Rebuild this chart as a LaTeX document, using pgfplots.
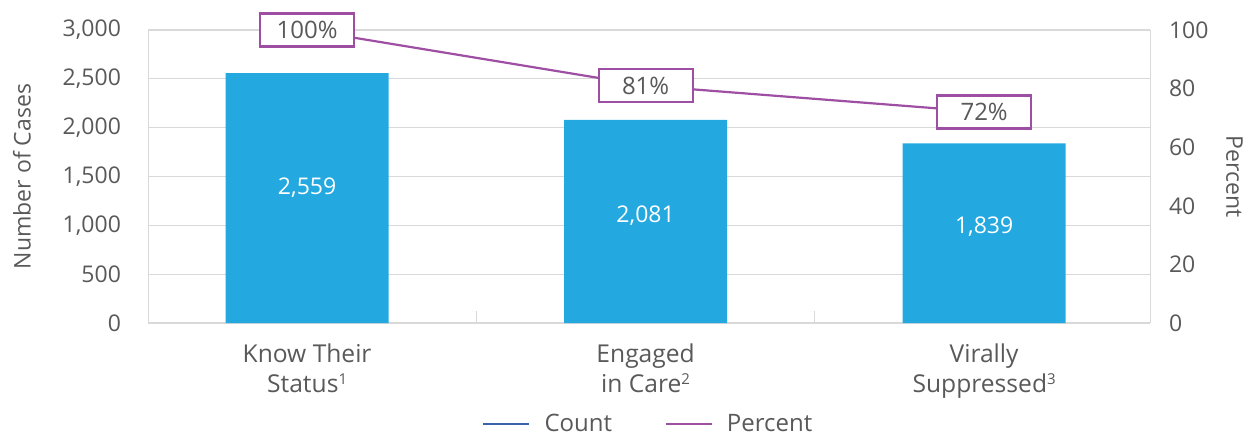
\documentclass[border=0pt]{standalone}
\usepackage{fontspec}
\setmainfont{Open Sans}
\usepackage{pgfplots}
\pgfplotsset{compat=1.18}
\definecolor{barblue}{HTML}{23A8E0}
\definecolor{legblue}{HTML}{3B63AD}
\definecolor{purp}{HTML}{9E4FA3}
\definecolor{txt}{HTML}{595959}
\definecolor{gridc}{HTML}{D9D9D9}
\newcommand{\fnote}[1]{\raisebox{4.3pt}{\fontsize{7.5}{8}\selectfont #1}}

\begin{document}
\begin{tikzpicture}
\path[use as bounding box] (-74pt,-55.5pt) rectangle (550pt,161.5pt);
\pgfplotsset{
  cascade/.style={
    scale only axis, width=501pt, height=146.5pt,
    xmin=-0.47, xmax=2.49,
    tick label style={font=\fontsize{11.5}{13}\selectfont, text=txt},
    label style={font=\fontsize{11.5}{13}\selectfont, text=txt},
    /pgf/number format/assume math mode=true,
    /pgf/number format/1000 sep={,},
  }
}
\begin{axis}[cascade,
  ymin=0, ymax=3000, ytick={0,500,...,3000},
  axis y line*=left, axis x line*=bottom,
  axis line style={draw=gridc},
  ymajorgrids, grid style={gridc, line width=0.6pt},
  y axis line style={draw=gridc},
  major y tick style={draw=none},
  xtick={0,1,2}, minor xtick={0.5,1.5},
  xtick align=inside, major tick length=6pt, minor tick length=6pt,
  x tick style={draw=gridc, line width=0.6pt},
  xticklabels={Know Their\\Status\fnote{1}, Engaged\\in Care\fnote{2}, Virally\\Suppressed\fnote{3}},
  xticklabel style={align=center, font=\fontsize{12.3}{15}\selectfont, text=txt, yshift=-7pt},
  ylabel={Number of Cases},
  ylabel style={yshift=9pt},
  yticklabel style={xshift=-10pt},
  legend style={at={(0.5,-0.345)}, anchor=center, draw=none, fill=none,
    inner sep=0pt, nodes={inner ysep=1pt},
    legend columns=2, font=\fontsize{12}{14}\selectfont, text=txt,
    /tikz/every even column/.append style={column sep=24pt}},
  legend image code/.code={\draw[#1] (0pt,0pt) -- (23pt,0pt); \path (28pt,0pt);},
]
\addplot[ybar, bar width=81.5pt, fill=barblue, draw=none, forget plot]
  coordinates {(0,2559) (1,2081) (2,1839)};
\addlegendimage{legblue, line width=1.4pt}
\addlegendentry{Count}
\addlegendimage{purp, line width=1.4pt}
\addlegendentry{Percent}
\node[text=white, font=\fontsize{11.5}{13}\selectfont] at (axis cs:0,1390) {2,559};
\node[text=white, font=\fontsize{11.5}{13}\selectfont] at (axis cs:1,1100) {2,081};
\node[text=white, font=\fontsize{11.5}{13}\selectfont] at (axis cs:2,990) {1,839};
\end{axis}
\begin{axis}[cascade,
  ymin=0, ymax=100, ytick={0,20,...,100},
  axis y line*=right, axis x line=none,
  y axis line style={draw=gridc},
  major y tick style={draw=none},
  ylabel={Percent},
  ylabel style={rotate=180, yshift=2pt},
  yticklabel style={xshift=6pt},
  clip=false,
]
\draw[gridc, line width=0.6pt] (rel axis cs:0,1) -- (rel axis cs:1,1);
\addplot[purp, line width=1.1pt, mark=none,
  nodes near coords={\pgfmathprintnumber{\pgfplotspointmeta}\%},
  every node near coord/.style={anchor=center, draw=purp, line width=1.1pt, fill=white,
    text=txt, minimum width=47pt, minimum height=16.5pt, inner sep=1pt,
    font=\fontsize{12}{14}\selectfont},
] coordinates {(0,100) (1,81) (2,72)};
\end{axis}
\end{tikzpicture}
\end{document}
